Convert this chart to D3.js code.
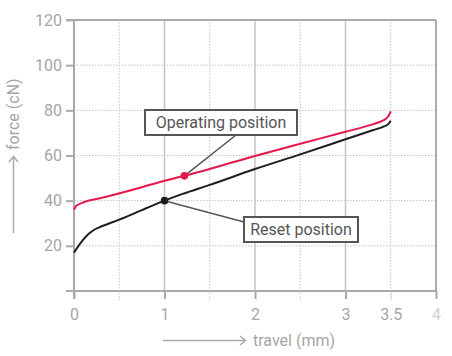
<!DOCTYPE html>
<html><head><meta charset="utf-8">
<script src="https://cdn.jsdelivr.net/npm/d3@7"></script>
<style>
html,body{margin:0;padding:0;background:#fff;}
svg{display:block;font-family:"Roboto","DejaVu Sans",sans-serif;}
</style></head>
<body><svg id="c" width="452" height="356"></svg>
<script>
// ---- data ----
const xTicks = [0, 1, 2, 3, 3.5, 4];
const xTickLabels = ["0", "1", "2", "3", "3.5", "4"];
const yTicks = [20, 40, 60, 80, 100, 120];
const xMinor = [0.5, 1.5, 2.5, 3.5];
const operatingTravel = [0, 0.02, 0.05, 0.1, 0.3, 0.65, 0.95, 1.22, 2, 2.5, 3, 3.3, 3.4, 3.45, 3.48, 3.5];
const operatingForce  = [36, 37.5, 38.3, 39.2, 41.2, 44.8, 48.3, 51, 59.8, 65.2, 70.5, 73.8, 75.2, 76.4, 77.8, 79.5];
const resetTravel = [0, 0.05, 0.1, 0.16, 0.22, 0.28, 0.5, 0.75, 1, 1.2, 1.5, 2, 2.5, 3, 3.3, 3.42, 3.47, 3.5];
const resetForce  = [17, 20, 22.6, 25.2, 27, 28.2, 31.6, 35.8, 40, 43, 47, 54, 60.5, 67.2, 71.2, 72.8, 73.8, 75.4];
const operatingPoint = [1.22, 51];
const resetPoint = [1, 40];
const labels = {operating: "Operating position", reset: "Reset position", x: "travel (mm)", y: "force (cN)"};

// ---- chart ----
const svg = d3.select("#c");
const x = d3.scaleLinear().domain([0, 4]).range([74, 436]);
const y = d3.scaleLinear().domain([0, 120]).range([291, 20]);
const axisCol = "#aaaaaa", gridCol = "#c4c4c4", textCol = "#a6a6a6";

// minor dotted grid
svg.append("g").selectAll("line").data(xMinor).join("line")
  .attr("x1", d => x(d)).attr("x2", d => x(d)).attr("y1", y(120)).attr("y2", y(0) + 9)
  .attr("stroke", gridCol).attr("stroke-width", 1).attr("stroke-dasharray", "1.5,1.5");
svg.append("g").selectAll("line").data(yTicks.filter(d => d < 120)).join("line")
  .attr("x1", x(0)).attr("x2", x(4)).attr("y1", d => y(d)).attr("y2", d => y(d))
  .attr("stroke", gridCol).attr("stroke-width", 1).attr("stroke-dasharray", "1.5,1.5");
// major vertical grid
svg.append("g").selectAll("line").data([1, 2, 3]).join("line")
  .attr("x1", d => x(d)).attr("x2", d => x(d)).attr("y1", y(120)).attr("y2", y(0))
  .attr("stroke", gridCol).attr("stroke-width", 1.5);
// frame top/right
svg.append("line").attr("x1", x(0) - 8).attr("x2", x(4)).attr("y1", y(120)).attr("y2", y(120))
  .attr("stroke", axisCol).attr("stroke-width", 2);
svg.append("line").attr("x1", x(4)).attr("x2", x(4)).attr("y1", y(120)).attr("y2", y(0))
  .attr("stroke", axisCol).attr("stroke-width", 2);

// axes
const yAxis = svg.append("g").attr("transform", `translate(${x(0)},0)`)
  .call(d3.axisLeft(y).tickValues(yTicks).tickSize(8).tickPadding(4));
const xAxis = svg.append("g").attr("transform", `translate(0,${y(0)})`)
  .call(d3.axisBottom(x).tickValues(xTicks).tickSize(8).tickPadding(10)
    .tickFormat((d, i) => xTickLabels[i]));
[yAxis, xAxis].forEach(g => {
  g.select(".domain").remove();
  g.selectAll(".tick line").attr("stroke", axisCol).attr("stroke-width", 2);
  g.selectAll("text").attr("fill", textCol).style("font-size", "16px").style("font-family", "Roboto, sans-serif");
});
xAxis.selectAll(".tick").filter(d => d === 3.5).select("line")
  .attr("stroke", gridCol).attr("stroke-width", 1).attr("stroke-dasharray", "1.5,1.5");
xAxis.selectAll(".tick").filter(d => d === 4).select("text").attr("fill", "#d0d0d0");
// axis lines
svg.append("line").attr("x1", x(0)).attr("x2", x(0)).attr("y1", y(120)).attr("y2", y(0) + 8)
  .attr("stroke", axisCol).attr("stroke-width", 2);
svg.append("line").attr("x1", x(0) - 8).attr("x2", x(4)).attr("y1", y(0)).attr("y2", y(0))
  .attr("stroke", axisCol).attr("stroke-width", 2);

// curves
const line = d3.line().x(d => x(d[0])).y(d => y(d[1])).curve(d3.curveMonotoneX);
svg.append("path").datum(resetTravel.map((t, i) => [t, resetForce[i]]))
  .attr("d", line).attr("fill", "none").attr("stroke", "#1e1e1e").attr("stroke-width", 2);
svg.append("path").datum(operatingTravel.map((t, i) => [t, operatingForce[i]]))
  .attr("d", line).attr("fill", "none").attr("stroke", "#e8174b").attr("stroke-width", 2);

// annotations
const boxCol = "#555555";
function annot(pt, color, bx, by, bw, bh, lx, ly, text) {
  svg.append("line").attr("x1", x(pt[0])).attr("y1", y(pt[1])).attr("x2", lx).attr("y2", ly)
    .attr("stroke", boxCol).attr("stroke-width", 1.5);
  svg.append("rect").attr("x", bx).attr("y", by).attr("width", bw).attr("height", bh)
    .attr("fill", "#fff").attr("stroke", boxCol).attr("stroke-width", 2);
  svg.append("text").attr("x", bx + bw / 2).attr("y", by + bh / 2 + 5.5).attr("text-anchor", "middle")
    .attr("fill", boxCol).style("font-size", "16px").text(text);
  svg.append("circle").attr("cx", x(pt[0])).attr("cy", y(pt[1])).attr("r", 3.8).attr("fill", color);
}
annot(operatingPoint, "#e8174b", 145, 110, 152, 25, 236, 135, labels.operating);
annot(resetPoint, "#1e1e1e", 244, 217, 114, 25, 244, 222, labels.reset);

// axis titles
const arrowCol = "#aaaaaa";
svg.append("line").attr("x1", 163).attr("x2", 245).attr("y1", 340.5).attr("y2", 340.5)
  .attr("stroke", arrowCol).attr("stroke-width", 1.5);
svg.append("path").attr("d", "M240,336 L245.5,340.5 L240,345").attr("fill", "none")
  .attr("stroke", arrowCol).attr("stroke-width", 1.5);
svg.append("text").attr("x", 253).attr("y", 346).attr("fill", textCol).style("font-size", "16px").text(labels.x);

svg.append("line").attr("x1", 13.5).attr("x2", 13.5).attr("y1", 233).attr("y2", 157)
  .attr("stroke", arrowCol).attr("stroke-width", 1.5);
svg.append("path").attr("d", "M9,162 L13.5,156.5 L18,162").attr("fill", "none")
  .attr("stroke", arrowCol).attr("stroke-width", 1.5);
svg.append("text").attr("transform", "translate(19,150) rotate(-90)").attr("fill", textCol)
  .style("font-size", "16px").text(labels.y);
</script></body></html>
